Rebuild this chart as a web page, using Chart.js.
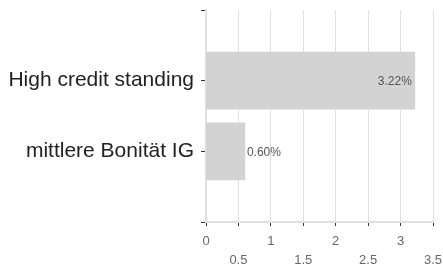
<!DOCTYPE html>
<html>
<head>
<meta charset="utf-8">
<script src="https://cdn.jsdelivr.net/npm/chart.js@4/dist/chart.umd.min.js"></script>
<style>
  html, body { margin: 0; padding: 0; background: #fff; }
  #wrap { width: 443px; height: 268px; }
</style>
</head>
<body>
<div id="wrap"><canvas id="creditChart"></canvas></div>
<script>
// Categories (empty slots at both ends to keep the spacing of the original)
var categories = ['', 'High credit standing', 'mittlere Bonität IG', ''];
var values = [null, 3.22, 0.60, null];
var valueLabels = [null, '3.22%', '0.60%', null];
var xTicks = [0, 0.5, 1, 1.5, 2, 2.5, 3, 3.5];

// Simple value label plugin
var valueLabelPlugin = {
    id: 'valueLabels',
    afterDatasetsDraw: function(chart) {
        var ctx = chart.ctx;
        var meta = chart.getDatasetMeta(0);
        ctx.save();
        ctx.font = '12px "Liberation Sans", Arial, sans-serif';
        ctx.fillStyle = '#555';
        ctx.textBaseline = 'middle';
        meta.data.forEach(function(bar, i) {
            if (values[i] == null) return;
            var text = valueLabels[i];
            var w = ctx.measureText(text).width;
            var barLen = bar.x - bar.base;
            if (barLen > w + 8) {
                ctx.textAlign = 'right';
                ctx.fillText(text, bar.x - 3, bar.y + 1);
            } else {
                ctx.textAlign = 'left';
                ctx.fillText(text, bar.x + 2, bar.y + 1);
            }
        });
        ctx.restore();
    }
};

var ctx = document.getElementById('creditChart').getContext('2d');
new Chart(ctx, {
    type: 'bar',
    data: {
        labels: categories,
        datasets: [{
            data: values,
            backgroundColor: '#d3d3d3',
            borderWidth: 0,
            barThickness: 57
        }]
    },
    plugins: [valueLabelPlugin],
    options: {
        indexAxis: 'y',
        responsive: true,
        maintainAspectRatio: false,
        animation: false,
        layout: { padding: { top: 10, right: 10, left: 0, bottom: 0 } },
        plugins: {
            legend: { display: false },
            tooltip: { enabled: false }
        },
        scales: {
            x: {
                type: 'linear',
                min: 0,
                max: 3.5,
                afterBuildTicks: function(axis) {
                    axis.ticks = xTicks.map(function(v) { return { value: v }; });
                },
                afterFit: function(axis) {
                    axis.height = 46;
                    axis.paddingLeft = 0;
                    axis.paddingRight = 0;
                },
                grid: {
                    color: '#e0e0e0',
                    lineWidth: 1,
                    tickColor: '#333',
                    tickLength: 4
                },
                border: { color: '#e0e0e0', width: 2 },
                ticks: {
                    autoSkip: false,
                    maxRotation: 0,
                    color: '#666',
                    padding: 6,
                    font: { family: '"Liberation Sans", Arial, sans-serif', size: 13, lineHeight: 1.45 },
                    callback: function(value) {
                        if (value % 1 !== 0) return ['', String(value)];
                        return String(value);
                    }
                }
            },
            y: {
                type: 'category',
                offset: false,
                afterFit: function(axis) {
                    axis.width = 206;
                    axis.paddingTop = 0;
                    axis.paddingBottom = 0;
                },
                grid: {
                    offset: false,
                    drawOnChartArea: false,
                    tickColor: '#333',
                    tickLength: 5
                },
                border: { color: '#e0e0e0', width: 2 },
                ticks: {
                    autoSkip: false,
                    color: '#222',
                    padding: 7,
                    font: { family: '"Liberation Sans", Arial, sans-serif', size: 21 }
                }
            }
        }
    }
});
</script>
</body>
</html>
